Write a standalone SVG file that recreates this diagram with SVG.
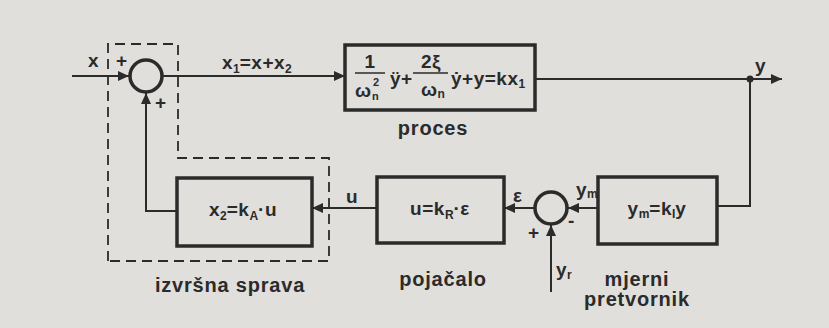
<svg xmlns="http://www.w3.org/2000/svg" width="829" height="328" viewBox="0 0 829 328">
<defs>
<marker id="ar" markerUnits="userSpaceOnUse" markerWidth="12" markerHeight="10" refX="11" refY="5" orient="auto">
<path d="M0,0 L11,5 L0,10 Z" fill="#2b2b2b"/>
</marker>
<style>
.bg{fill:#e1dfdb}
.box{fill:none;stroke:#2b2b2b;stroke-width:3.5}
.sum{fill:none;stroke:#2b2b2b;stroke-width:3.5}
.ln{fill:none;stroke:#2b2b2b;stroke-width:2}
.dash{fill:none;stroke:#2b2b2b;stroke-width:1.8;stroke-dasharray:10 6}
text{font-family:"Liberation Sans","DejaVu Sans",sans-serif;fill:#2b2b2b;font-weight:bold}
.t{font-size:19px;letter-spacing:0.5px}
.lab{font-size:20px;letter-spacing:0.8px}
.s{font-size:12px;letter-spacing:0}
.ss{font-size:11px}
.m{text-anchor:middle}
</style>
</defs>
<rect class="bg" x="0" y="0" width="829" height="328"/>

<g id="actuator-boundary">
<path class="dash" d="M108,261 L108,44 L178,44 L178,158 L329,158 L329,261 Z"/>
<text class="lab m" x="230" y="292">izvršna sprava</text>
</g>

<g id="connectors">
<path class="ln" d="M72,76 L129,76" marker-end="url(#ar)"/>
<path class="ln" d="M163,76 L345,76" marker-end="url(#ar)"/>
<path class="ln" d="M535,79 L782,79" marker-end="url(#ar)"/>
<circle cx="750" cy="79" r="3.5" fill="#2b2b2b"/>
<path class="ln" d="M750,79 L750,206 L717,206"/>
<path class="ln" d="M598,208 L568,208" marker-end="url(#ar)"/>
<path class="ln" d="M534,208 L504,208" marker-end="url(#ar)"/>
<path class="ln" d="M377,208 L312,208" marker-end="url(#ar)"/>
<path class="ln" d="M177,211 L146,211 L146,93" marker-end="url(#ar)"/>
<path class="ln" d="M551,292 L551,225" marker-end="url(#ar)"/>
<text class="t" x="88" y="67">x</text>
<text class="t" x="222" y="69">x<tspan class="s" dy="4">1</tspan><tspan dy="-4">=x+x</tspan><tspan class="s" dy="4">2</tspan></text>
<text class="t" x="755" y="72">y</text>
<text class="t" x="346" y="203">u</text>
<text class="t" x="513" y="202">ε</text>
<text class="t" x="576" y="196">y<tspan class="s" dy="2">m</tspan></text>
<text class="t" x="556" y="276">y<tspan class="s" dy="3">r</tspan></text>
</g>

<g id="sum1">
<circle class="sum" cx="146" cy="76" r="16"/>
<text class="t" x="116" y="67">+</text>
<text class="t" x="155" y="109">+</text>
</g>

<g id="process">
<rect class="box" x="345" y="45" width="190" height="65"/>
<text class="t m" x="370" y="68">1</text>
<line x1="355" y1="73" x2="385" y2="73" stroke="#2b2b2b" stroke-width="1.5"/>
<text class="t" x="355" y="97">ω</text>
<text class="ss" x="372" y="100">n</text>
<text class="ss" x="373" y="86">2</text>
<text class="t" x="390" y="85">ÿ+</text>
<text class="t m" x="431" y="68">2ξ</text>
<line x1="413" y1="73" x2="448" y2="73" stroke="#2b2b2b" stroke-width="1.5"/>
<text class="t" x="421" y="96">ω<tspan class="s" dy="2">n</tspan></text>
<text class="t" x="451" y="85">ẏ+y=kx<tspan class="s" dy="3">1</tspan></text>
<text class="lab m" x="433" y="135">proces</text>
</g>

<g id="actuator">
<rect class="box" x="177" y="178" width="135" height="68"/>
<text class="t m" x="243" y="216">x<tspan class="s" dy="4">2</tspan><tspan dy="-4">=k</tspan><tspan class="s" dy="4">A</tspan><tspan dy="-4">·u</tspan></text>
</g>

<g id="amplifier">
<rect class="box" x="377" y="177" width="127" height="66"/>
<text class="t m" x="440" y="215">u=k<tspan class="s" dy="4">R</tspan><tspan dy="-4">·ε</tspan></text>
<text class="lab m" x="443" y="286">pojačalo</text>
</g>

<g id="sum2">
<circle class="sum" cx="551" cy="208" r="16"/>
<text class="t" x="528" y="239">+</text>
<text class="t" x="568" y="227">-</text>
</g>

<g id="sensor">
<rect class="box" x="598" y="177" width="119" height="67"/>
<text class="t m" x="657" y="215">y<tspan class="s" dy="3">m</tspan><tspan dy="-3">=k</tspan><tspan class="s" dy="3">I</tspan><tspan dy="-3">y</tspan></text>
<text class="lab m" x="637" y="286">mjerni</text>
<text class="lab m" x="637" y="306">pretvornik</text>
</g>
</svg>
